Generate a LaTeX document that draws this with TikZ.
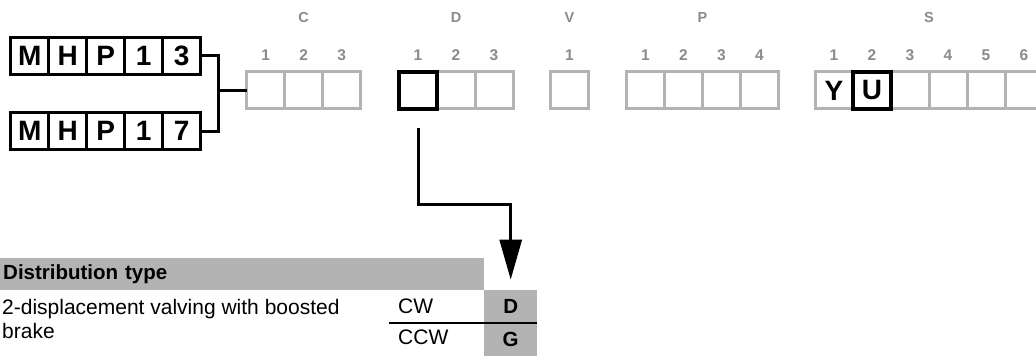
\documentclass[tikz,border=0pt]{standalone}
\usepackage{fontspec}
\setmainfont{Liberation Sans}
\usetikzlibrary{positioning,arrows.meta,calc}
\definecolor{boxgray}{HTML}{B3B3B3}
\definecolor{labelgray}{HTML}{8A8A8A}

\begin{document}
\begin{tikzpicture}[
    x=1pt, y=1pt,
    node distance=0pt,
    cell/.style={rectangle, draw=black, line width=3pt, minimum width=38pt, minimum height=37pt, inner sep=0pt, outer sep=0pt, font=\fontsize{28}{30}\selectfont\bfseries},
    graycell/.style={cell, draw=boxgray},
    selcell/.style={cell, line width=4.5pt},
    numlbl/.style={inner sep=0pt, text=labelgray, font=\fontsize{15.5}{17}\selectfont\bfseries},
    grouplbl/.style={inner sep=0pt, text=labelgray, font=\fontsize{14.5}{16}\selectfont\bfseries},
    header/.style={rectangle, fill=boxgray, minimum width=484pt, minimum height=32pt, inner sep=3pt, text width=478pt, align=left, font=\fontsize{20.5}{24}\selectfont\bfseries},
    codecell/.style={rectangle, fill=boxgray, minimum width=53pt, minimum height=33pt, inner sep=0pt, font=\fontsize{20.5}{24}\selectfont\bfseries},
    txt/.style={inner sep=0pt, font=\fontsize{21}{23.5}\selectfont},
    link/.style={line width=3pt},
    rule/.style={line width=1.2pt},
    arrow/.style={-{Triangle[length=40pt, width=22pt]}, line width=3pt}
]
    \useasboundingbox (0,0) rectangle (1036,356);

    % Model codes
    \node[cell] (ta1) at (29.7,300) {M};
    \node[cell, right=of ta1] (ta2) {H};
    \node[cell, right=of ta2] (ta3) {P};
    \node[cell, right=of ta3] (ta4) {1};
    \node[cell, right=of ta4] (ta5) {3};
    \node[cell] (tb1) at (29.7,224.7) {M};
    \node[cell, right=of tb1] (tb2) {H};
    \node[cell, right=of tb2] (tb3) {P};
    \node[cell, right=of tb3] (tb4) {1};
    \node[cell, right=of tb4] (tb5) {7};

    % Code fields
    \node[graycell] (c1) at (265.7,265.5) {};
    \node[graycell, right=of c1] (c2) {};
    \node[graycell, right=of c2] (c3) {};
    \node[graycell] (d2) at (456,265.5) {};
    \node[graycell, right=of d2] (d3) {};
    \node[selcell, left=of d2] (d1) {};
    \node[graycell] (v1) at (569.5,265.5) {};
    \node[graycell] (p1) at (645.5,265.5) {};
    \node[graycell, right=of p1] (p2) {};
    \node[graycell, right=of p2] (p3) {};
    \node[graycell, right=of p3] (p4) {};
    \node[graycell] (s1) at (834,265.5) {Y};
    \node[graycell, right=38pt of s1] (s3) {};
    \node[graycell, right=of s3] (s4) {};
    \node[graycell, right=of s4] (s5) {};
    \node[graycell, right=of s5] (s6) {};
    \node[selcell, right=of s1] (s2) {U};

    % Position numbers
    \node[numlbl, above=11.5pt of c1] (nc1) {1};
    \node[numlbl, above=11.5pt of c2] (nc2) {2};
    \node[numlbl, above=11.5pt of c3] (nc3) {3};
    \node[numlbl, above=11.5pt of d1] (nd1) {1};
    \node[numlbl, above=11.5pt of d2] (nd2) {2};
    \node[numlbl, above=11.5pt of d3] (nd3) {3};
    \node[numlbl, above=11.5pt of v1] (nv1) {1};
    \node[numlbl, above=11.5pt of p1] (np1) {1};
    \node[numlbl, above=11.5pt of p2] (np2) {2};
    \node[numlbl, above=11.5pt of p3] (np3) {3};
    \node[numlbl, above=11.5pt of p4] (np4) {4};
    \node[numlbl, above=11.5pt of s1] (ns1) {1};
    \node[numlbl, above=11.5pt of s2] (ns2) {2};
    \node[numlbl, above=11.5pt of s3] (ns3) {3};
    \node[numlbl, above=11.5pt of s4] (ns4) {4};
    \node[numlbl, above=11.5pt of s5] (ns5) {5};
    \node[numlbl, above=11.5pt of s6] (ns6) {6};

    % Field letters
    \node[grouplbl] (lc) at ($(nc2)+(0,37)$) {C};
    \node[grouplbl] (ld) at ($(nd2)+(0,37)$) {D};
    \node[grouplbl] (lv) at ($(nv1)+(0,37)$) {V};
    \node[grouplbl] (lp) at ($(np2)!0.5!(np3)+(0,37)$) {P};
    \node[grouplbl] (ls) at ($(ns3)!0.5!(ns4)+(0,37)$) {S};

    % Table
    \node[header, anchor=south west] (dtype) at (0,66) {Distribution type};
    \node[txt, anchor=base west, align=left] (desc) at (2,17.5) {2-displacement valving with boosted\\brake};
    \node[codecell, anchor=south west] (dcw) at (484,33) {D};
    \node[codecell, anchor=south west] (dccw) at (484,0) {G};
    \node[txt, anchor=base west] (cw) at (398,42) {CW};
    \node[txt, anchor=base west] (ccw) at (398,11) {CCW};

    % Connections
    \draw[link] (ta5.east) -- ++(18,0) |- (tb5.east);
    \draw[link] (c1.west) -| ($(ta5.east)+(18,0)$);
    \draw[arrow, shorten <=19pt, shorten >=10pt] (d1.south) -- ++(0,-96) -| (dcw.north);
    \draw[rule] ([xshift=-9pt]cw.west |- dcw.south) -- (dcw.south east);
\end{tikzpicture}
\end{document}
